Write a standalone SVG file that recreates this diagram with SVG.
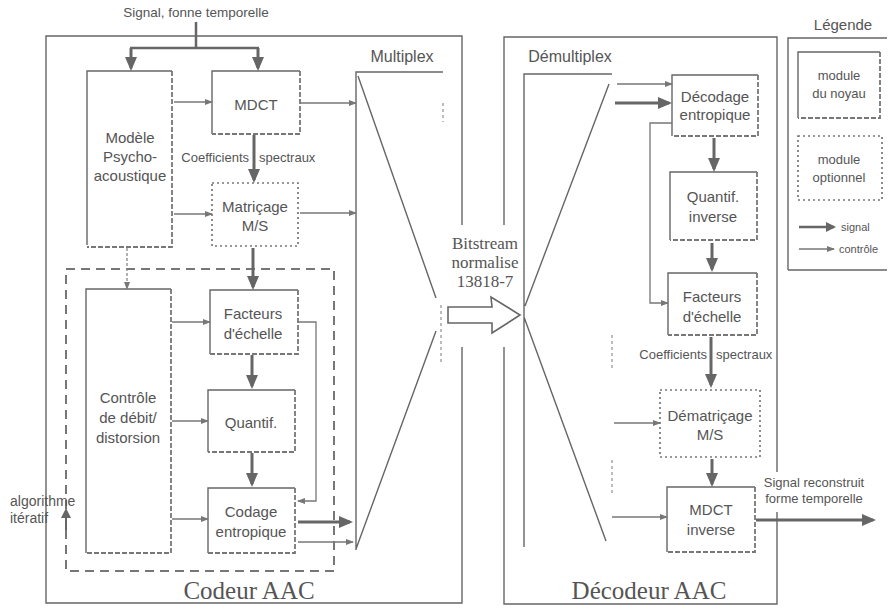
<svg xmlns="http://www.w3.org/2000/svg" width="888" height="610" viewBox="0 0 888 610">
<defs>
<style>
.ln{fill:none;stroke:#666;stroke-width:1.4}
.core{fill:none;stroke:#666;stroke-width:1.4}
.cshade{fill:none;stroke:#777;stroke-width:1.8;stroke-dasharray:5 2}
.opt{fill:none;stroke:#777;stroke-width:1.7;stroke-dasharray:2 3}
.dash{fill:none;stroke:#777;stroke-width:2;stroke-dasharray:9 6}
.faint{fill:none;stroke:#999;stroke-width:1.3;stroke-dasharray:3 3}
.thick{fill:none;stroke:#666;stroke-width:3;marker-end:url(#big)}
.thin{fill:none;stroke:#777;stroke-width:1.3;marker-end:url(#small)}
.thindot{fill:none;stroke:#888;stroke-width:1.3;stroke-dasharray:3 2;marker-end:url(#small)}
text{font-family:"Liberation Sans",Arial,sans-serif;fill:#555}
.lbl{font-size:15px;text-anchor:middle}
.sm{font-size:13px}
.ser{font-family:"Liberation Serif","Times New Roman",serif}
</style>
<marker id="big" viewBox="0 0 14 12" refX="11" refY="6" markerWidth="14" markerHeight="12" markerUnits="userSpaceOnUse" orient="auto"><path d="M0,0 L14,6 L0,12 z" fill="#666"/></marker>
<marker id="small" viewBox="0 0 8 6" refX="7" refY="3" markerWidth="8" markerHeight="6" markerUnits="userSpaceOnUse" orient="auto"><path d="M0,0 L8,3 L0,6 z" fill="#777"/></marker>
<marker id="mid" viewBox="0 0 10 10" refX="8" refY="5" markerWidth="10" markerHeight="10" markerUnits="userSpaceOnUse" orient="auto"><path d="M0,0 L10,5 L0,10 z" fill="#666"/></marker>
</defs>
<rect width="888" height="610" fill="#fff"/>

<g id="encoder">
<path class="ln" d="M462,225 V36 H46 V603 H462 V347"/>
<text class="ser" x="249" y="599" font-size="25" text-anchor="middle">Codeur AAC</text>
</g>
<g id="decoder">
<path class="ln" d="M504,225 V37 H777 V472 M777,512 V604 H504 V347"/>
<text class="ser" x="649" y="599" font-size="25" text-anchor="middle">Décodeur AAC</text>
</g>

<g id="rate-loop">
<rect class="dash" x="66" y="269" width="268" height="302"/>
<text x="10" y="506" font-size="14">algorithme</text>
<text x="10" y="523" font-size="14">itératif</text>
</g>

<g id="psycho">
<path class="core" d="M172,71 H87 V245"/>
<path class="cshade" d="M172,71 V247 H87"/>
<text class="lbl" x="130" y="143">Modèle</text>
<text class="lbl" x="130" y="162">Psycho-</text>
<text class="lbl" x="130" y="181">acoustique</text>
</g>
<g id="mdct">
<path class="core" d="M300,71 H212 V134"/>
<path class="cshade" d="M300,71 V134 H212"/>
<text class="lbl" x="256" y="110" font-size="16">MDCT</text>
</g>
<g id="matricage">
<rect class="opt" x="212" y="183" width="86" height="63"/>
<text class="lbl" x="255" y="212">Matriçage</text>
<text class="lbl" x="255" y="231">M/S</text>
</g>
<g id="controle">
<path class="core" d="M171,289 H86 V553"/>
<path class="cshade" d="M171,289 V553 H86"/>
<text class="lbl" x="128" y="403">Contrôle</text>
<text class="lbl" x="128" y="423">de débit/</text>
<text class="lbl" x="128" y="443">distorsion</text>
</g>
<g id="facteurs-enc">
<path class="core" d="M298,290 H210 V354"/>
<path class="cshade" d="M298,290 V354 H210"/>
<text class="lbl" x="253" y="319">Facteurs</text>
<text class="lbl" x="253" y="339">d'échelle</text>
</g>
<g id="quantif">
<path class="core" d="M295,390 H208 V452"/>
<path class="cshade" d="M295,390 V452 H208"/>
<text class="lbl" x="251" y="428">Quantif.</text>
</g>
<g id="codage">
<path class="core" d="M295,488 H208 V553"/>
<path class="cshade" d="M295,488 V553 H208"/>
<text class="lbl" x="251" y="517">Codage</text>
<text class="lbl" x="251" y="537">entropique</text>
</g>
<g id="multiplex">
<text x="402" y="62" font-size="16" text-anchor="middle">Multiplex</text>
<path class="ln" d="M356,550 V72 H443 M358,76 L436,298 M436,331 L356,549"/>
<path class="faint" d="M443,103 V122 M441,305 V363"/>
</g>

<g id="bitstream">
<text class="ser" x="485" y="249" font-size="17" text-anchor="middle">Bitstream</text>
<text class="ser" x="485" y="268" font-size="17" text-anchor="middle">normalise</text>
<text class="ser" x="485" y="287" font-size="17" text-anchor="middle">13818-7</text>
<path fill="#fff" stroke="#666" stroke-width="1.6" d="M448,307 H492 L491,297 L520,315 L492,333 L492,323 H448 Z"/>
</g>

<g id="demultiplex">
<text x="570" y="62" font-size="16" text-anchor="middle">Démultiplex</text>
<path class="ln" d="M524,547 V74 H612 M609,84 L525,306 M524,317 L606,541"/>
<path class="faint" d="M612,335 V368 M612,460 V495"/>
</g>
<g id="decodage">
<path class="core" d="M758,75 H672 V136"/>
<path class="cshade" d="M758,75 V136 H672"/>
<text class="lbl" x="715" y="102">Décodage</text>
<text class="lbl" x="715" y="120">entropique</text>
</g>
<g id="quantif-inv">
<path class="core" d="M757,172 H670 V240"/>
<path class="cshade" d="M757,172 V240 H670"/>
<text class="lbl" x="713" y="202">Quantif.</text>
<text class="lbl" x="713" y="222">inverse</text>
</g>
<g id="facteurs-dec">
<path class="core" d="M757,273 H668 V335"/>
<path class="cshade" d="M757,273 V335 H668"/>
<text class="lbl" x="712" y="302">Facteurs</text>
<text class="lbl" x="712" y="322">d'échelle</text>
</g>
<g id="dematricage">
<rect class="opt" x="660" y="390" width="100" height="67"/>
<text class="lbl" x="710" y="421">Dématriçage</text>
<text class="lbl" x="710" y="440">M/S</text>
</g>
<g id="mdct-inv">
<path class="core" d="M755,487 H667 V552"/>
<path class="cshade" d="M755,487 V552 H667"/>
<text class="lbl" x="711" y="515">MDCT</text>
<text class="lbl" x="711" y="535">inverse</text>
</g>

<g id="legend">
<text x="843" y="30" font-size="15" text-anchor="middle">Légende</text>
<path class="ln" d="M788,270 V38 H887 M788,270 H887"/>
<path class="core" d="M880,52 H798 V118"/>
<path class="cshade" d="M880,52 V118 H798"/>
<text x="839" y="80" class="sm" text-anchor="middle">module</text>
<text x="839" y="98" class="sm" text-anchor="middle">du noyau</text>
<rect class="opt" x="798" y="136" width="84" height="64"/>
<text x="839" y="164" class="sm" text-anchor="middle">module</text>
<text x="839" y="182" class="sm" text-anchor="middle">optionnel</text>
<path fill="none" stroke="#666" stroke-width="2.5" marker-end="url(#mid)" d="M799,227 H834"/>
<text x="841" y="231" font-size="11">signal</text>
<path class="thin" d="M799,249 H834"/>
<text x="839" y="253" font-size="11">contrôle</text>
</g>

<g id="connectors">
<text x="196" y="17" font-size="13.5" text-anchor="middle" fill="#444">Signal, fonne temporelle</text>
<path fill="none" stroke="#666" stroke-width="2.5" d="M196,22 V48 M130,48 H259"/>
<path class="thick" d="M131,48 V68"/>
<path class="thick" d="M258,48 V68"/>
<path class="thin" d="M174,102 H212"/>
<path class="thin" d="M300,103 H356"/>
<path class="thick" d="M254,135 V180"/>
<text x="249" y="162" class="sm" text-anchor="end">Coefficients</text>
<text x="259" y="162" class="sm">spectraux</text>
<path class="thin" d="M174,214 H212"/>
<path class="thin" d="M300,213 H356"/>
<path class="thick" d="M253,248 V287"/>
<path class="thindot" d="M127,248 V289"/>
<path class="thin" d="M172,322 H210"/>
<path class="thin" d="M172,421 H208"/>
<path class="thin" d="M172,519 H208"/>
<path class="thick" d="M252,355 V386"/>
<path class="thick" d="M252,453 V484"/>
<path class="thin" d="M298,322 H316 V501 H298"/>
<path class="thick" d="M298,522 H350"/>
<path class="thin" d="M298,542 H353"/>
<path fill="none" stroke="#666" stroke-width="2" marker-end="url(#mid)" d="M66,530 V510"/>
<path class="thin" d="M617,84 H672"/>
<path class="thick" d="M615,103 H669"/>
<path class="thin" d="M672,123 H650 V303 H668"/>
<path class="thick" d="M714,138 V169"/>
<path class="thick" d="M712,243 V269"/>
<path class="thick" d="M711,337 V385"/>
<text x="707" y="359" class="sm" text-anchor="end">Coefficients</text>
<text x="716" y="359" class="sm">spectraux</text>
<path class="thin" d="M614,423 H660"/>
<path class="thick" d="M712,459 V484"/>
<path class="thin" d="M612,517 H667"/>
<path class="thick" d="M756,520 H873"/>
<text x="814" y="487" class="sm" text-anchor="middle">Signal reconstruit</text>
<text x="814" y="503" class="sm" text-anchor="middle">forme temporelle</text>
</g>
</svg>
